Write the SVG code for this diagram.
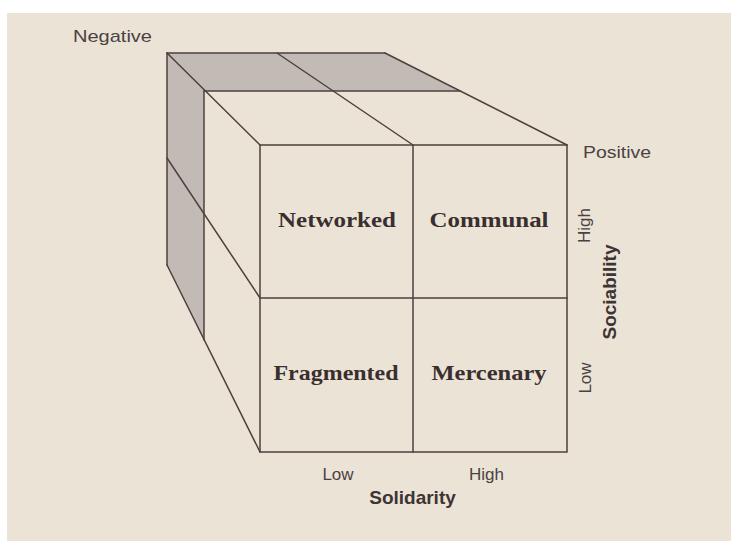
<svg xmlns="http://www.w3.org/2000/svg" width="731" height="541" viewBox="0 0 731 541">
  <style>
    .edge { fill: none; stroke: #4f3f3e; stroke-width: 1.5; stroke-linecap: round; }
    .shade { fill: #c2bbb5; stroke: none; }
    .cell { fill: none; }
    .label { font-family: "Liberation Serif", "Times New Roman", serif; font-weight: bold; font-size: 22px; fill: #3a2f2f; text-anchor: middle; }
    .axis { font-family: "Liberation Sans", Arial, sans-serif; font-size: 17px; fill: #4a4242; }
    .axis-title { font-family: "Liberation Sans", Arial, sans-serif; font-weight: bold; font-size: 19px; fill: #3e3434; text-anchor: middle; }
  </style>

  <!-- paper -->
  <rect x="0" y="0" width="731" height="541" fill="#ffffff"/>
  <rect x="7" y="13" width="724" height="528" fill="#ece3d7"/>

  <!-- shaded back slab (negative side) -->
  <polygon class="shade" points="167,53 385,53 460,91 204,91 204,340 167,265"/>

  <!-- cube edges -->
  <g id="connectors">
    <line class="edge" x1="167" y1="53" x2="385" y2="53"/>
    <line class="edge" x1="167" y1="53" x2="167" y2="265"/>
    <line class="edge" x1="167" y1="53" x2="260" y2="145"/>
    <line class="edge" x1="385" y1="53" x2="567" y2="145"/>
    <line class="edge" x1="277" y1="53" x2="413" y2="145"/>
    <line class="edge" x1="204" y1="91" x2="460" y2="91"/>
    <line class="edge" x1="204" y1="91" x2="204" y2="340"/>
    <line class="edge" x1="167" y1="158" x2="260" y2="298"/>
    <line class="edge" x1="167" y1="265" x2="260" y2="452"/>
    <rect class="edge" x="260" y="145" width="307" height="307"/>
    <line class="edge" x1="413" y1="145" x2="413" y2="452"/>
    <line class="edge" x1="260" y1="298" x2="567" y2="298"/>
  </g>

  <!-- front face quadrants -->
  <g id="networked">
    <rect class="cell" x="260" y="145" width="153" height="153"/>
    <text class="label" x="337" y="227" textLength="118" lengthAdjust="spacingAndGlyphs">Networked</text>
  </g>
  <g id="communal">
    <rect class="cell" x="413" y="145" width="154" height="153"/>
    <text class="label" x="489" y="227" textLength="119" lengthAdjust="spacingAndGlyphs">Communal</text>
  </g>
  <g id="fragmented">
    <rect class="cell" x="260" y="298" width="153" height="154"/>
    <text class="label" x="336" y="380" textLength="125" lengthAdjust="spacingAndGlyphs">Fragmented</text>
  </g>
  <g id="mercenary">
    <rect class="cell" x="413" y="298" width="154" height="154"/>
    <text class="label" x="489" y="380" textLength="115" lengthAdjust="spacingAndGlyphs">Mercenary</text>
  </g>

  <!-- depth axis -->
  <text class="axis" x="73" y="42" font-size="19" textLength="79" lengthAdjust="spacingAndGlyphs">Negative</text>
  <text class="axis" x="583" y="158" font-size="19" textLength="68" lengthAdjust="spacingAndGlyphs">Positive</text>

  <!-- solidarity axis -->
  <text class="axis" x="338" y="480" text-anchor="middle">Low</text>
  <text class="axis" x="486.5" y="480" text-anchor="middle">High</text>
  <text class="axis-title" x="412.5" y="504">Solidarity</text>

  <!-- sociability axis -->
  <text class="axis" transform="translate(590,225.5) rotate(-90)" text-anchor="middle">High</text>
  <text class="axis" transform="translate(591,378) rotate(-90)" text-anchor="middle">Low</text>
  <text class="axis-title" transform="translate(616,292) rotate(-90)" font-size="18.5">Sociability</text>
</svg>
